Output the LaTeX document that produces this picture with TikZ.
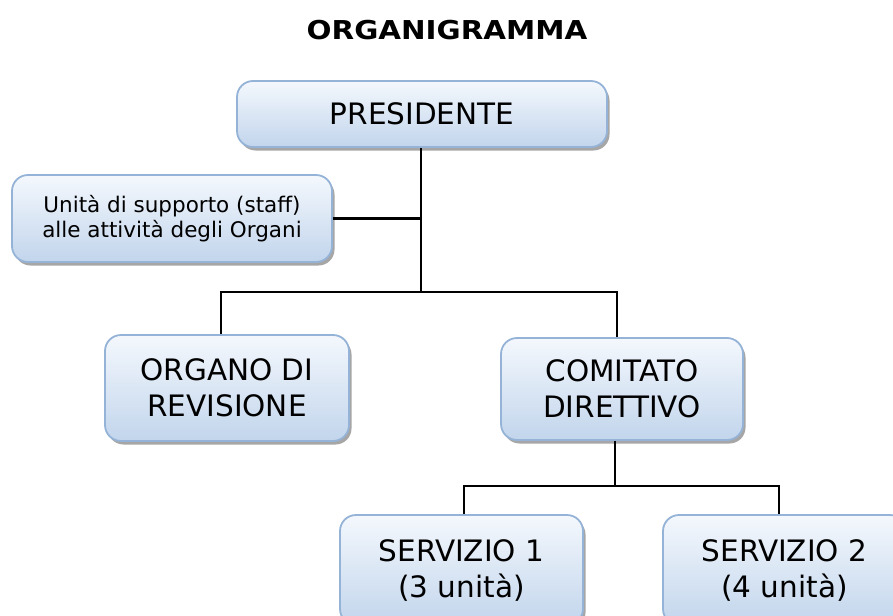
\documentclass[tikz,border=0pt]{standalone}
\usepackage{fontspec}
\setmainfont{DejaVu Sans}
\usepackage{graphicx}
\usetikzlibrary{shadows}
\definecolor{boxborder}{HTML}{95B3D7}
\definecolor{boxtop}{HTML}{F4F8FD}
\definecolor{boxbot}{HTML}{C2D5EC}
\tikzset{
  orgbox/.style={draw=boxborder, line width=1.8pt, rounded corners=16pt,
    top color=boxtop, bottom color=boxbot, align=center, inner sep=0pt,
    drop shadow={shadow xshift=2.5pt, shadow yshift=-3.5pt, fill=black, opacity=0.35}},
  bigtext/.style={font=\fontsize{29.5}{36}\selectfont},
  smalltext/.style={font=\fontsize{21.5}{25}\selectfont},
  link/.style={draw=black, line width=2.2pt},
}
\begin{document}
\begin{tikzpicture}[x=1pt,y=-1pt]
\useasboundingbox (0,0) rectangle (893,615);
\clip (0,0) rectangle (893,615);

\node[font=\bfseries\fontsize{26}{30}\selectfont] (title) at (447,30.5)
  {\scalebox{1.13}[1]{ORGANIGRAMMA}};

\node[orgbox, bigtext, minimum width=370pt, minimum height=66pt] (pres) at (422,114) {PRESIDENTE};
\node[orgbox, smalltext, minimum width=320pt, minimum height=87pt] (staff) at (172,218.5)
  {Unità di supporto (staff)\\alle attività degli Organi};
\node[orgbox, bigtext, minimum width=244pt, minimum height=106pt] (org) at (227,388)
  {ORGANO DI\\REVISIONE};
\node[orgbox, bigtext, minimum width=242pt, minimum height=102pt] (com) at (622,389)
  {COMITATO\\DIRETTIVO};
\node[orgbox, bigtext, minimum width=243pt, minimum height=110pt] (s1) at (461.5,570)
  {SERVIZIO 1\\(3 unità)};
\node[orgbox, bigtext, minimum width=243pt, minimum height=110pt] (s2) at (784.5,570)
  {SERVIZIO 2\\(4 unità)};

\coordinate (b1M) at (421,292);
\coordinate (b1L) at (221,292);
\coordinate (b1R) at (617,292);
\coordinate (b2M) at (615,486);
\coordinate (b2L) at (464,486);
\coordinate (b2R) at (779,486);

\draw[link] (b1M |- pres.south) -- (b1M);
\draw[link] (staff.east) -- (staff.east -| b1M);
\draw[link] (b1L |- org.north) -- (b1L) -- (b1R) -- (b1R |- com.north);
\draw[link] (b2M |- com.south) -- (b2M);
\draw[link] (b2L |- s1.north) -- (b2L) -- (b2R) -- (b2R |- s2.north);
\end{tikzpicture}
\end{document}
